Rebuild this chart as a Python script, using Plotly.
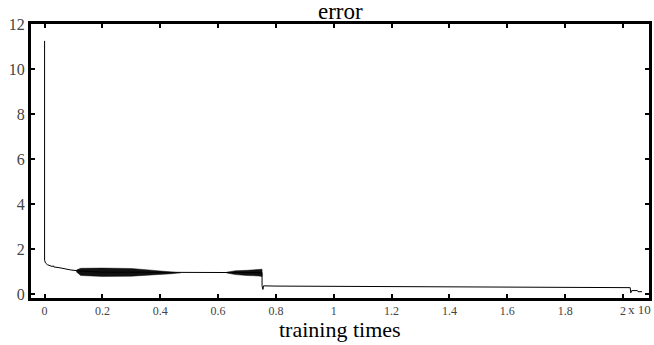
import plotly.graph_objects as go

# main error curve
x_main = [0, 0, 0.003, 0.01, 0.026, 0.03, 0.032, 0.05, 0.089, 0.12, 0.2, 0.3, 0.4, 0.5, 0.6, 0.7, 0.752,
          0.752, 0.755, 0.757, 0.8, 1.0, 1.2, 1.4, 1.6, 1.8, 2.0, 2.025, 2.027, 2.03, 2.05, 2.052, 2.066]
y_main = [11.25, 1.5, 1.38, 1.3, 1.22, 1.25, 1.2, 1.17, 1.07, 1.02, 0.97, 0.96, 0.95, 0.95, 0.95, 0.95, 0.95,
          0.36, 0.2, 0.36, 0.35, 0.34, 0.33, 0.31, 0.3, 0.29, 0.28, 0.28, 0.05, 0.15, 0.15, 0.1, 0.1]

# oscillation envelopes (dense oscillating band regions)
band1_x = [0.11, 0.125, 0.2, 0.3, 0.35, 0.4, 0.44, 0.47]
band1_hi = [1.06, 1.14, 1.15, 1.13, 1.08, 1.03, 1.0, 0.97]
band1_lo = [0.98, 0.82, 0.78, 0.79, 0.83, 0.86, 0.9, 0.94]

band2_x = [0.63, 0.66, 0.7, 0.74, 0.752]
band2_hi = [0.97, 1.03, 1.05, 1.08, 1.1]
band2_lo = [0.93, 0.86, 0.82, 0.8, 0.78]

x_ticks = [0, 0.2, 0.4, 0.6, 0.8, 1, 1.2, 1.4, 1.6, 1.8, 2]
x_tick_text = ["0", "0.2", "0.4", "0.6", "0.8", "1", "1.2", "1.4", "1.6", "1.8", "2"]
y_ticks = [0, 2, 4, 6, 8, 10, 12]

fig = go.Figure()

for bx, bh, bl in [(band1_x, band1_hi, band1_lo), (band2_x, band2_hi, band2_lo)]:
    fig.add_trace(go.Scatter(
        x=bx + bx[::-1], y=bh + bl[::-1], fill="toself", fillcolor="#111111",
        line=dict(color="#111111", width=0.5), mode="lines", hoverinfo="skip", showlegend=False))

fig.add_trace(go.Scatter(x=x_main, y=y_main, mode="lines",
                         line=dict(color="black", width=1), showlegend=False))

serif = "Liberation Serif"
fig.update_layout(
    width=654, height=345,
    margin=dict(l=31, r=5, t=24, b=47),
    paper_bgcolor="white", plot_bgcolor="white",
    showlegend=False,
    font=dict(family=serif, color="#333333"),
    xaxis=dict(range=[-0.047, 2.09], tickvals=x_ticks, ticktext=x_tick_text,
               ticks="inside", ticklen=4, tickwidth=2, tickcolor="black",
               showline=True, linewidth=3, linecolor="black", mirror="ticks",
               showgrid=False, zeroline=False, automargin=False,
               tickfont=dict(family=serif, size=12, color="#444444")),
    yaxis=dict(range=[-0.18, 12], tickvals=y_ticks,
               ticks="inside", ticklen=4, tickwidth=2, tickcolor="black",
               showline=True, linewidth=3, linecolor="black", mirror="ticks",
               showgrid=False, zeroline=False, automargin=False,
               tickfont=dict(family=serif, size=16, color="#444444")),
    annotations=[
        dict(text="error", x=0.5, y=1, xref="paper", yref="paper", xanchor="center",
             yanchor="bottom", showarrow=False, font=dict(family=serif, size=23, color="black"),
             yshift=-2),
        dict(text="training times", x=0.5, y=0, xref="paper", yref="paper", xanchor="center",
             yanchor="top", showarrow=False, font=dict(family=serif, size=22, color="black"),
             yshift=-18, borderpad=0),
        dict(text="x 10", x=1, y=0, xref="paper", yref="paper", xanchor="left",
             yanchor="top", showarrow=False, font=dict(family=serif, size=13, color="#444444"),
             xshift=-23, yshift=-2),
    ],
)

fig.write_html("out.html", config={"displayModeBar": False},
               post_script="document.body.style.margin='0';document.body.style.padding='0';")
